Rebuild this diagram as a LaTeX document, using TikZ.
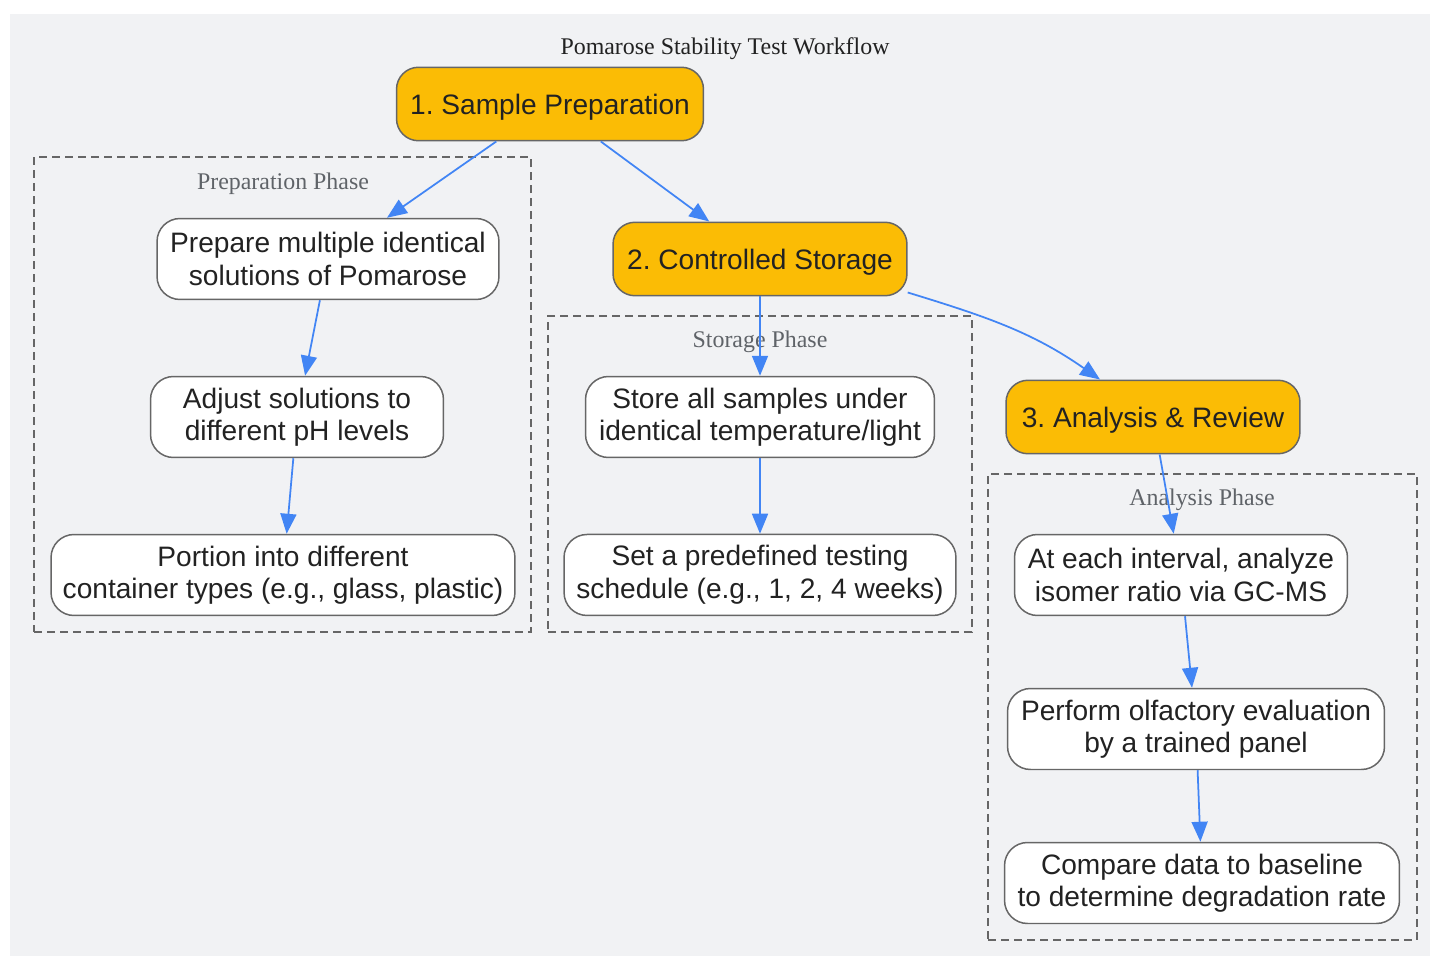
\documentclass[tikz,border=0pt]{standalone}
\usepackage{fontspec}
\setmainfont{Liberation Serif}
\setsansfont{Liberation Sans}
\usepackage{tikz}
\usetikzlibrary{positioning}
\usetikzlibrary{shapes,arrows.meta}
\frenchspacing
\definecolor{gold}{HTML}{FBBC05}
\definecolor{edgegray}{HTML}{666666}
\definecolor{ink}{HTML}{222222}
\definecolor{labelgray}{HTML}{5F6368}
\definecolor{flowblue}{HTML}{4285F4}
\definecolor{canvas}{HTML}{F1F2F4}
\tikzset{%
  stage/.style     = {draw=edgegray, line width=0.85pt, fill=gold, rectangle,
    rounded corners=0.44cm, minimum height=1.47cm, text=ink,
    text height=15pt, text depth=3.4pt,
    font=\sffamily\fontsize{16}{18.5}\selectfont},
  task/.style      = {draw=edgegray, line width=0.85pt, fill=white, rectangle,
    rounded corners=0.46cm, minimum height=1.62cm, inner sep=0.1cm, align=center,
    text=ink, font=\sffamily\fontsize{16}{18.5}\selectfont},
  phase/.style     = {draw=edgegray, line width=1pt, dash pattern=on 0.16cm off 0.1cm,
    rectangle, inner sep=0pt}, % Dashed group
  phaselabel/.style = {text=labelgray, font=\fontsize{13.6}{16}\selectfont},
  flow/.style      = {draw=flowblue, line width=1pt, -{Triangle[length=0.4cm, width=0.32cm]}}
}

\begin{document}
\begin{tikzpicture}[x=0.02cm, y=-0.02cm]

	\useasboundingbox (0,0) rectangle (1430,956);
	\fill[canvas] (10,14) rectangle (1430,956);

	\draw node at (725,49) [text=ink, font=\fontsize{13.6}{16}\selectfont] (title) {Pomarose Stability Test Workflow};

	% phases
	\draw node at (282.5,394.5) [phase, minimum width=9.94cm, minimum height=9.5cm] (prepbox) {};
	\draw node at (760,474) [phase, minimum width=8.48cm, minimum height=6.32cm] (storebox) {};
	\draw node at (1202.5,707) [phase, minimum width=8.58cm, minimum height=9.32cm] (anabox) {};

	\draw node at (283,184) [phaselabel] (preplabel) {Preparation Phase};
	\draw node at (760,342) [phaselabel] (storelabel) {Storage Phase};
	\draw node at (1202,500) [phaselabel] (analabel) {Analysis Phase};

	% stages
	\draw node at (550,104) [stage, minimum width=6.14cm] (sample) {1. Sample Preparation};
	\draw node at (760,259) [stage, minimum width=5.88cm] (storage) {2. Controlled Storage};
	\draw node at (1153,417) [stage, minimum width=5.88cm] (analysis) {3. Analysis \& Review};

	% steps
	\draw node at (328,259) [task, minimum width=6.84cm] (prepare) {Prepare multiple identical\\solutions of Pomarose};
	\draw node at (297,417) [task, minimum width=5.86cm] (adjust) {Adjust solutions to\\different pH levels};
	\draw node at (283,575) [task, minimum width=9.28cm] (portion) {Portion into different\\container types (e.g., glass, plastic)};

	\draw node at (760,417) [task, minimum width=6.98cm] (store) {Store all samples under\\identical temperature/light};
	\draw node [task, below of=store, node distance=3.16cm, minimum width=7.84cm] (schedule) {Set a predefined testing\\schedule (e.g., 1, 2, 4 weeks)};

	\draw node at (1181,575) [task, minimum width=6.66cm] (gcms) {At each interval, analyze\\isomer ratio via GC-MS};
	\draw node at (1196,729) [task, minimum width=7.54cm] (panel) {Perform olfactory evaluation\\by a trained panel};
	\draw node at (1202,883) [task, minimum width=7.9cm] (compare) {Compare data to baseline\\to determine degradation rate};

	\draw[flow] (sample) -- (prepare);
	\draw[flow] (sample) -- (storage);
	\draw[flow] (prepare) -- (adjust);
	\draw[flow] (adjust) -- (portion);

	\draw[flow] (storage) -- (store);
	\draw[flow] (store) -- (schedule);
	\draw[flow] ([yshift=0.08cm]storage.south east) to[out=-17, in=145] ([xshift=-1.06cm]analysis.north);

	\draw[flow] (analysis) -- (gcms);
	\draw[flow] (gcms) -- (panel);
	\draw[flow] (panel) -- (compare);

\end{tikzpicture}
\end{document}
